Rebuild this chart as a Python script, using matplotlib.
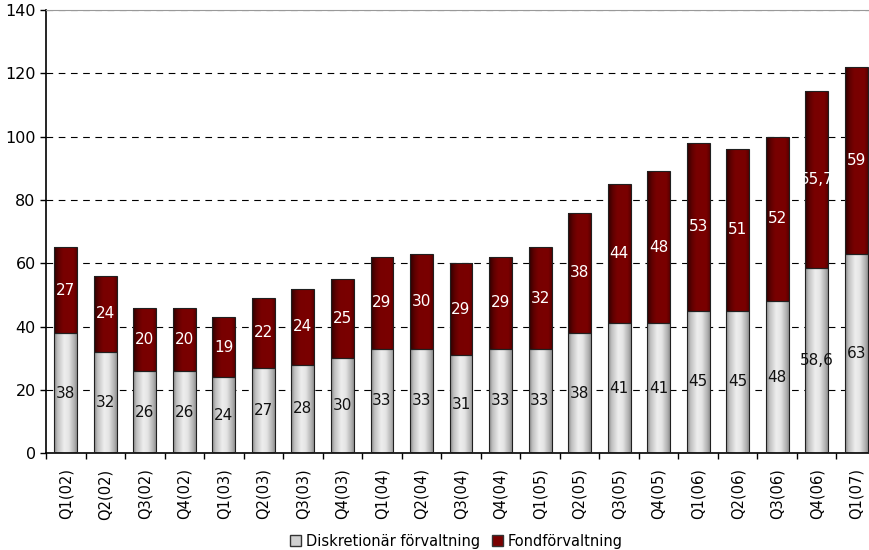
import numpy as np
import matplotlib as mpl
mpl.use('Agg')
from matplotlib import pyplot as plt
from matplotlib.colors import LinearSegmentedColormap
from matplotlib.patches import Rectangle

quarters = ['Q1(02)', 'Q2(02)', 'Q3(02)', 'Q4(02)', 'Q1(03)', 'Q2(03)', 'Q3(03)',
            'Q4(03)', 'Q1(04)', 'Q2(04)', 'Q3(04)', 'Q4(04)', 'Q1(05)', 'Q2(05)',
            'Q3(05)', 'Q4(05)', 'Q1(06)', 'Q2(06)', 'Q3(06)', 'Q4(06)', 'Q1(07)']
diskretionar = [38, 32, 26, 26, 24, 27, 28, 30, 33, 33, 31, 33, 33, 38, 41, 41,
                45, 45, 48, 58.6, 63]
fond = [27, 24, 20, 20, 19, 22, 24, 25, 29, 30, 29, 29, 32, 38, 44, 48, 53, 51,
        52, 55.7, 59]
disk_labels = ['38', '32', '26', '26', '24', '27', '28', '30', '33', '33', '31',
               '33', '33', '38', '41', '41', '45', '45', '48', '58,6', '63']
fond_labels = ['27', '24', '20', '20', '19', '22', '24', '25', '29', '30', '29',
               '29', '32', '38', '44', '48', '53', '51', '52', '55,7', '59']

plt.rcParams['font.family'] = 'DejaVu Sans'

# horizontal shading across each bar
gray_cmap = LinearSegmentedColormap.from_list(
    'gray_bar', [(0, '#858585'), (0.15, '#c0c0c0'), (0.45, '#eeeeee'),
                 (0.65, '#e4e4e4'), (0.9, '#b0b0b0'), (1, '#909090')])
red_cmap = LinearSegmentedColormap.from_list(
    'red_bar', [(0, '#2e0000'), (0.2, '#5e0000'), (0.4, '#780000'),
                (0.85, '#7a0000'), (1, '#5a0000')])
grad = np.linspace(0, 1, 64).reshape(1, -1)

fig = plt.figure(figsize=(8.69, 5.5), dpi=100)
ax = fig.add_axes([0.053, 0.176, 0.955, 0.806])

x = np.arange(len(quarters))
width = 0.58
b1 = ax.bar(x, diskretionar, width, color='none', edgecolor='#202020',
            linewidth=0.8, zorder=3)
b2 = ax.bar(x, fond, width, bottom=diskretionar, color='none',
            edgecolor='#202020', linewidth=0.8, zorder=3)

for bars, cmap in ((b1, gray_cmap), (b2, red_cmap)):
    for bar in bars:
        x0, y0 = bar.get_x(), bar.get_y()
        w, h = bar.get_width(), bar.get_height()
        im = ax.imshow(grad, cmap=cmap, extent=[x0, x0 + w, y0, y0 + h],
                       aspect='auto', zorder=2, interpolation='bilinear')
        clip = Rectangle((x0, y0), w, h, transform=ax.transData)
        im.set_clip_path(clip)

for i in x:
    ax.text(i, diskretionar[i] / 2, disk_labels[i], ha='center', va='center',
            fontsize=11, color='#111111', zorder=4)
    ax.text(i, diskretionar[i] + fond[i] / 2, fond_labels[i], ha='center',
            va='center', fontsize=11, color='white', zorder=4)

ax.set_xlim(-0.5, len(quarters) - 0.5)
ax.set_ylim(0, 140)
ax.set_yticks(np.arange(0, 141, 20))
ax.tick_params(axis='y', labelsize=11.5, length=4, width=1, direction='out')
ax.yaxis.grid(True, linestyle=(0, (6, 5)), color='black', linewidth=0.8,
              zorder=0)
ax.set_axisbelow(True)

ax.set_xticks(x)
ax.set_xticklabels(quarters, rotation=90, fontsize=10.5)
ax.tick_params(axis='x', length=0, pad=11)
ax.set_xticks(np.arange(-0.5, len(quarters), 1), minor=True)
ax.tick_params(axis='x', which='minor', length=4, width=1, direction='out')

ax.spines['right'].set_visible(False)
ax.spines['top'].set_color('#999999')
ax.spines['left'].set_linewidth(1.2)
ax.spines['bottom'].set_linewidth(1.2)

handles = [Rectangle((0, 0), 1, 1, facecolor='#d0d0d0', edgecolor='#333333'),
           Rectangle((0, 0), 1, 1, facecolor='#7a0000', edgecolor='#333333')]
fig.legend(handles, ['Diskretionär förvaltning', 'Fondförvaltning'],
           loc='lower center', bbox_to_anchor=(0.525, -0.022), ncol=2,
           frameon=False, fontsize=10.5, handlelength=0.8, handleheight=0.8,
           handletextpad=0.3, columnspacing=0.8)

fig.savefig('out.png', dpi=100)
